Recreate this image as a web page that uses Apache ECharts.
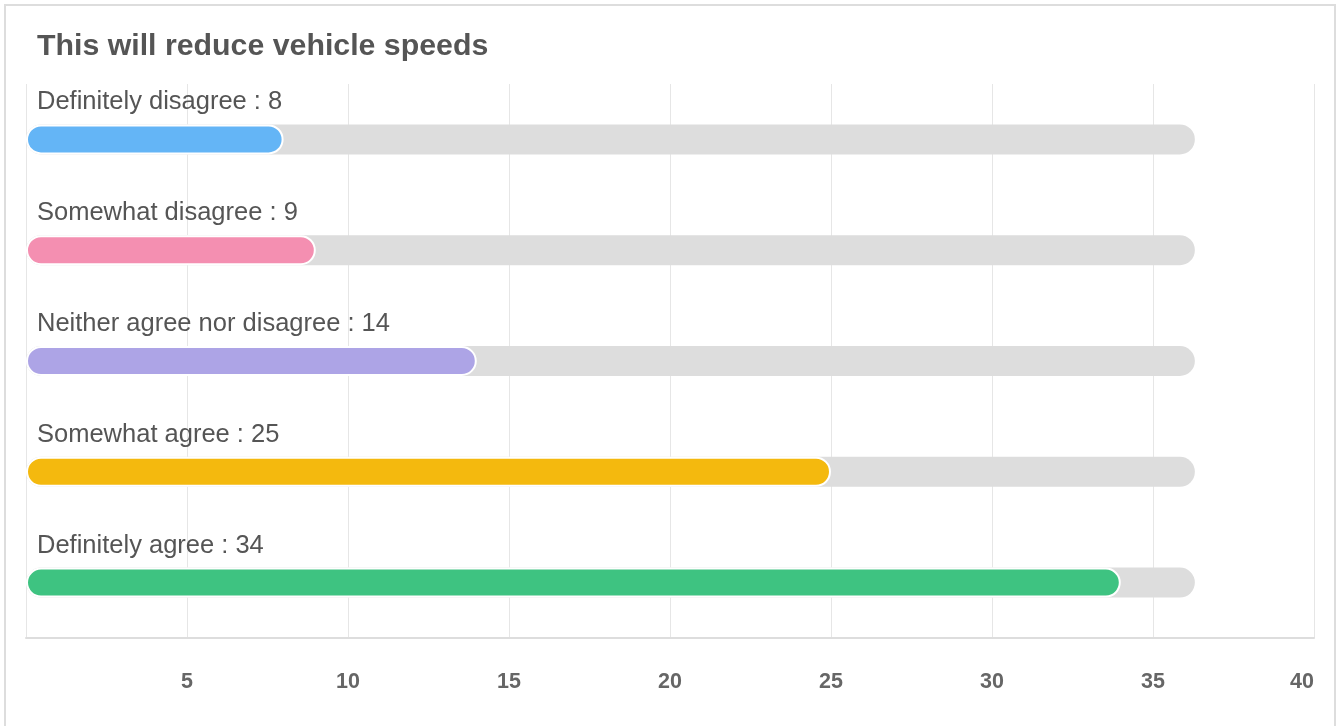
<!DOCTYPE html>
<html><head><meta charset="utf-8">
<script src="https://cdn.jsdelivr.net/npm/echarts@6/dist/echarts.min.js"></script>
<style>html,body{margin:0;padding:0;background:#fff}#c{width:1338px;height:726px}</style>
</head><body><div id="c"></div>
<script>
const titleText = 'This will reduce vehicle speeds';
const categories = ['Definitely disagree','Somewhat disagree','Neither agree nor disagree','Somewhat agree','Definitely agree'];
const values = [8, 9, 14, 25, 34];
const trackValues = [36.3, 36.3, 36.3, 36.3, 36.3];
const colors = ['#64B5F6','#F48FB1','#ADA4E6','#F4B90E','#3EC381'];
const xTicks = [0, 5, 10, 15, 20, 25, 30, 35, 40];

const chart = echarts.init(document.getElementById('c'));
chart.setOption({
  animation: false,
  title: { text: titleText, left: 32, top: 27, textStyle: { fontFamily: 'Liberation Sans', fontSize: 30.3, fontWeight: 'bold', color: '#555' } },
  graphic: [{ type: 'rect', shape: { x: 5, y: 5, width: 1330, height: 760 }, style: { fill: 'none', stroke: '#ddd', lineWidth: 2 }, silent: true }],
  grid: { left: 26, right: 24, top: 84, bottom: 88 },
  xAxis: {
    type: 'value', min: xTicks[0], max: xTicks[xTicks.length-1], interval: 5,
    axisLine: { show: true, lineStyle: { color: '#ddd', width: 2 } },
    axisTick: { show: false },
    splitLine: { show: true, lineStyle: { color: '#e6e6e6', width: 1 } },
    axisLabel: { showMinLabel: false, alignMaxLabel: 'right', margin: 33, fontFamily: 'Liberation Sans', fontSize: 21.5, fontWeight: 'bold', color: '#666' }
  },
  yAxis: {
    type: 'category', data: categories, inverse: true,
    axisLine: { show: false }, axisTick: { show: false }, axisLabel: { show: false }, splitLine: { show: false }
  },
  series: [
    { type: 'bar', data: trackValues, barWidth: 30, barGap: '-100%', silent: true, z: 1,
      itemStyle: { color: '#ddd', borderRadius: 15 },
      label: { show: true, position: [11, -22], align: 'left', verticalAlign: 'middle',
        formatter: p => categories[p.dataIndex] + ' : ' + values[p.dataIndex],
        fontFamily: 'Liberation Sans', fontSize: 25.5, color: '#555' } },
    { type: 'bar', data: values.map((v,i)=>({ value: v, itemStyle: { color: colors[i] } })), barWidth: 30, z: 2,
      itemStyle: { borderRadius: 15, borderColor: '#fff', borderWidth: 2 } }
  ]
});
</script></body></html>
